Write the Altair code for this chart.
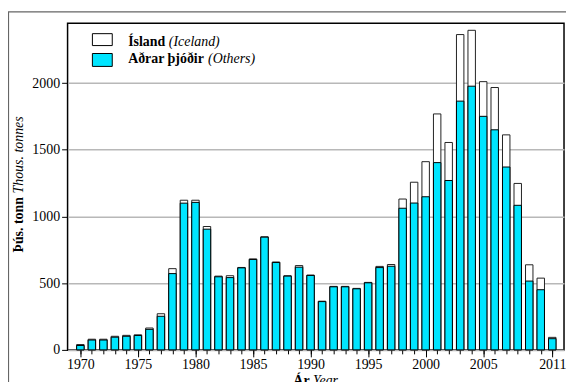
import altair as alt
import pandas as pd

years = list(range(1970, 2012))
others = [33, 74, 74, 95, 102, 108, 154, 252, 572, 1100, 1106, 905, 548, 542,
          615, 678, 845, 655, 553, 620, 558, 362, 473, 473, 458, 503, 617, 627,
          1062, 1101, 1148, 1404, 1270, 1865, 1977, 1751, 1650, 1371, 1084, 516,
          451, 84]
totals = [40, 80, 80, 102, 109, 113, 164, 271, 609, 1122, 1122, 925, 553, 556,
          618, 682, 848, 659, 556, 632, 561, 365, 476, 476, 461, 506, 626, 640,
          1131, 1257, 1411, 1769, 1555, 2364, 2396, 2011, 1967, 1612, 1248, 638,
          538, 94]
major_years = [1970, 1975, 1980, 1985, 1990, 1995, 2000, 2005, 2011]
y_ticks = [0, 500, 1000, 1500, 2000]

FONT = "Liberation Serif"
CYAN = "#00E5FF"

df = pd.DataFrame({"year": years, "others": others, "total": totals})
one = pd.DataFrame({"k": [0]})

xscale = alt.Scale(domain=[1969.32, 2011.59], nice=False, zero=False)
yscale = alt.Scale(domain=[0, 2449], nice=False)
yaxis = alt.Axis(values=y_ticks, format="d", title=None, grid=True,
                 gridColor="#b8b8b8", gridWidth=1.5, tickSize=6, labelPadding=2,
                 domain=False, tickColor="black", labelFont=FONT,
                 labelFontSize=14, labelColor="black")

frame = alt.Chart(one).mark_rect(fillOpacity=0, stroke="#666666", strokeWidth=1.2).encode(
    x=alt.value(-59.5), x2=alt.value(520), y=alt.value(-11.5), y2=alt.value(400)
)

total_bars = alt.Chart(df).mark_bar(size=7.5, color="white", stroke="#222222",
                                    strokeWidth=1).encode(
    x=alt.X("year:Q", scale=xscale,
            axis=alt.Axis(values=years, labels=False, tickSize=4, title=None,
                          domain=False, grid=False, orient="bottom",
                          tickColor="black")),
    y=alt.Y("total:Q", scale=yscale, axis=yaxis),
)

other_bars = alt.Chart(df).mark_bar(size=7.5, color=CYAN, stroke="black",
                                    strokeWidth=1).encode(
    x=alt.X("year:Q", scale=xscale,
            axis=alt.Axis(values=major_years, format="d", tickSize=7,
                          labelPadding=1, title=None, domain=False, grid=False,
                          orient="bottom", tickColor="black", labelFont=FONT,
                          labelFontSize=14, labelColor="black")),
    y=alt.Y("others:Q", scale=yscale, axis=yaxis),
)

def txt(s, x, y, style="normal", weight="normal", angle=0):
    return alt.Chart(one).mark_text(
        text=s, font=FONT, fontSize=14, fontStyle=style, fontWeight=weight,
        align="left", baseline="alphabetic", color="black", angle=angle
    ).encode(x=alt.value(x), y=alt.value(y))

leg1 = alt.Chart(one).mark_rect(fill="white", stroke="black", strokeWidth=1).encode(
    x=alt.value(25), x2=alt.value(45), y=alt.value(10.5), y2=alt.value(22.5))
leg2 = alt.Chart(one).mark_rect(fill=CYAN, stroke="black", strokeWidth=1).encode(
    x=alt.value(25), x2=alt.value(45), y=alt.value(30.5), y2=alt.value(43.5))

texts = [
    txt("Ísland", 61, 22.5, weight="bold"),
    txt("(Iceland)", 102, 22.5, style="italic"),
    txt("Aðrar þjóðir", 61, 40.5, weight="bold"),
    txt("(Others)", 141.5, 40.5, style="italic"),
    txt("Þús. tonn", -44.5, 231, weight="bold", angle=270),
    txt("Thous. tonnes", -44.5, 171.5, style="italic", angle=270),
    txt("Ár", 227.4, 364.5, weight="bold"),
    txt("Year", 247.2, 364.5, style="italic"),
]

chart = alt.layer(frame, total_bars, other_bars, leg1, leg2, *texts).resolve_axis(
    x="independent"
).resolve_scale(x="shared").properties(
    width=500, height=329,
    autosize=alt.AutoSizeParams(type="none"),
    padding={"left": 60, "top": 14, "right": 2, "bottom": 31},
).configure_view(stroke="black", strokeWidth=1.5)

chart.save("out.html", embed_options={"renderer": "svg", "actions": False})
